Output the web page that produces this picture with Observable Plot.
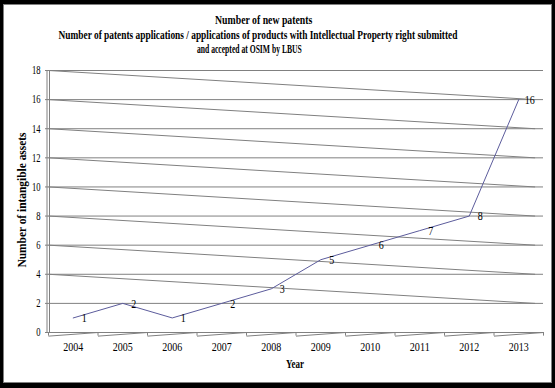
<!DOCTYPE html>
<html><head><meta charset="utf-8">
<script src="https://cdn.jsdelivr.net/npm/d3@7"></script>
<script src="https://cdn.jsdelivr.net/npm/@observablehq/plot@0.6"></script>
<style>
html,body{margin:0;padding:0;background:#000;}
#wrap{position:relative;width:555px;height:388px;background:#000;overflow:hidden;}
#panel{position:absolute;left:3px;top:4px;width:549px;height:379px;background:#fff;border:1px solid #808080;box-sizing:border-box;}
.tl{position:absolute;white-space:nowrap;font-family:"Liberation Serif",serif;font-weight:bold;font-size:13px;line-height:14px;transform-origin:center center;color:#000;}
#chart{position:absolute;left:0;top:60px;}
</style></head><body>
<div id="wrap"><div id="panel"></div><div id="titles"></div><div id="chart"></div></div>
<script>
const titleLines = [
  "Number of new patents",
  "Number of patents applications / applications of products with Intellectual Property right submitted",
  "and accepted at OSIM by LBUS"
];
const years = [2004, 2005, 2006, 2007, 2008, 2009, 2010, 2011, 2012, 2013];
const patents = [1, 2, 1, 2, 3, 5, 6, 7, 8, 16];
const yTicks = [0, 2, 4, 6, 8, 10, 12, 14, 16, 18];
const xLabel = "Year";
const yLabel = "Number of intangible assets";

// title layout (center x, target width, top y)
const titleLayout = [[263, 97, 13], [257.5, 399, 27.5], [249, 105, 42]];
const titles = document.getElementById("titles");
titleLines.forEach((t, i) => {
  const [cx, tw, top] = titleLayout[i];
  const s = document.createElement("span");
  s.className = "tl";
  s.textContent = t;
  titles.appendChild(s);
  const w = s.offsetWidth;
  s.style.left = (cx - w / 2) + "px";
  s.style.top = top + "px";
  s.style.transform = `scaleX(${tw / w})`;
});

const W = 555, H = 325, TOP = 60;
const x0 = years[0] - 0.5, x1 = years[years.length - 1] + 0.5;
const data = years.map((y, i) => ({year: y, value: patents[i]}));
const bounds = d3.range(years.length + 1).map(i => x0 + i);
const slants = yTicks.filter(v => v >= 4).map(v => ({v}));
const bottomSegs = years.map(y => ({a: y - 0.5, b: y + 0.5}));
const grid = "#808080";

const chart = Plot.plot({
  width: W, height: H,
  marginTop: 10, marginBottom: 53, marginLeft: 48, marginRight: 12,
  style: {background: "transparent", fontFamily: "Liberation Serif, serif", fontSize: "12px", color: "#000"},
  x: {domain: [x0, x1]},
  y: {domain: [0, 18]},
  marks: [
    Plot.ruleY(yTicks.filter(v => v > 0), {x1: x0, x2: x1, stroke: grid}),
    Plot.link(slants, {x1: x0, y1: "v", x2: x1 - 0.17, y2: d => d.v - 2, stroke: grid}),
    Plot.link(bottomSegs, {x1: "a", y1: -0.25, x2: "b", y2: 0, stroke: grid}),
    Plot.ruleX(bounds, {y1: -0.25, y2: 0, stroke: grid}),
    Plot.ruleY([0], {x1: x0, x2: x1, stroke: grid}),
    Plot.ruleX([x0], {y1: 0, y2: 18, stroke: grid, dx: -1.5}),
    Plot.ruleX([x0], {y1: 0, y2: 18, stroke: grid, dx: 1}),
    Plot.line(data, {x: "year", y: "value", stroke: "#5c5c9c", strokeWidth: 1}),
    Plot.text(data, {x: "year", y: "value", text: "value", dx: 11, fontSize: 13, fill: "#000"}),
    Plot.axisX({ticks: years, tickFormat: d3.format("d"), tickSize: 0, tickPadding: 10, label: null}),
    Plot.axisY({ticks: yTicks, tickSize: 3, tickPadding: 5, stroke: grid, label: null})
  ]
});
document.getElementById("chart").appendChild(chart);

const svg = d3.select(chart);
svg.selectAll('g[aria-label="x-axis tick label"] text')
  .attr("textLength", 20).attr("lengthAdjust", "spacingAndGlyphs");
svg.selectAll('g[aria-label="y-axis tick label"] text')
  .each(function() {
    const n = this.textContent.length;
    d3.select(this).attr("textLength", n * 4.3).attr("lengthAdjust", "spacingAndGlyphs");
  });
svg.selectAll('g[aria-label="text"] text')
  .each(function() {
    const n = this.textContent.length;
    d3.select(this).attr("textLength", n * 5).attr("lengthAdjust", "spacingAndGlyphs");
  });
svg.append("text")
  .attr("transform", `translate(21,${200 - TOP}) rotate(-90)`)
  .attr("text-anchor", "middle").attr("dy", "0.35em")
  .attr("font-weight", "bold").attr("font-size", 13)
  .attr("textLength", 135).attr("lengthAdjust", "spacingAndGlyphs")
  .text(yLabel);
svg.append("text")
  .attr("x", 295).attr("y", 363 - TOP).attr("dy", "0.35em")
  .attr("text-anchor", "middle")
  .attr("font-weight", "bold").attr("font-size", 13)
  .attr("textLength", 18).attr("lengthAdjust", "spacingAndGlyphs")
  .text(xLabel);
</script>
</body></html>
